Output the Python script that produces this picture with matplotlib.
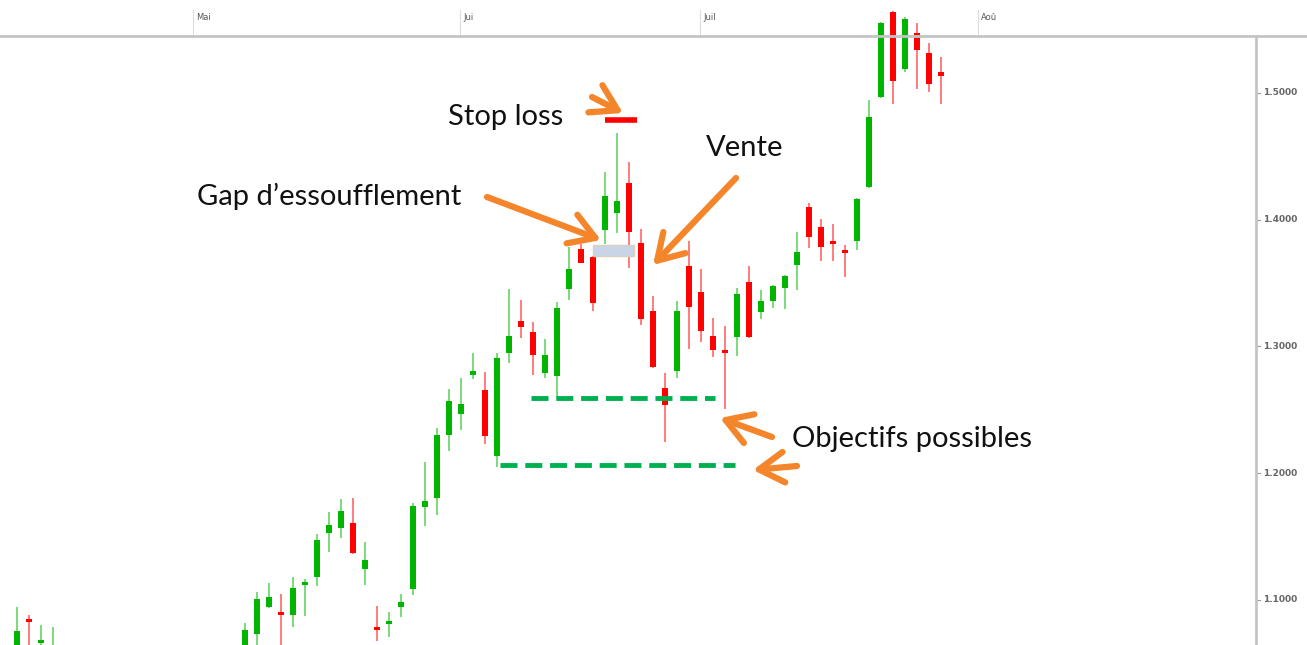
import matplotlib.pyplot as plt
import numpy as np

nan = np.nan

# daily candles, index = trading day; days 4-18 lie below the visible window
opens = [1.0580, 1.0830, 1.0660, 1.0500] + [nan] * 15 + [
    1.0580, 1.0732, 1.0944, 1.0885, 1.0881, 1.1118, 1.1181, 1.1528, 1.1568, 1.1607,
    1.1244, 1.0768, 1.0810, 1.0944, 1.1087, 1.1734, 1.1805, 1.2302, 1.2467, 1.2775,
    1.2657, 1.2136, 1.2949, 1.3201, 1.3114, 1.2791, 1.2767, 1.3454, 1.3769, 1.3706,
    1.3919, 1.4053, 1.4290, 1.3816, 1.3280, 1.2672, 1.2807, 1.3635, 1.3430, 1.3083,
    1.2953, 1.3075, 1.3509, 1.3272, 1.3359, 1.3461, 1.3643, 1.4101, 1.3943, 1.3813,
    1.3742, 1.3832, 1.4258, 1.4968, 1.5639, 1.5189, 1.5473, 1.5316, 1.5146]
highs = [1.0944, 1.0881, 1.0803, 1.0787] + [nan] * 15 + [
    1.0818, 1.1063, 1.1134, 1.1047, 1.1181, 1.1165, 1.1521, 1.1694, 1.1797, 1.1805,
    1.1457, 1.0952, 1.0905, 1.1047, 1.1765, 1.2089, 1.2357, 1.2665, 1.2751, 1.2949,
    1.2799, 1.2949, 1.3454, 1.3367, 1.3193, 1.3059, 1.3351, 1.3785, 1.3809, 1.3712,
    1.4377, 1.4684, 1.4456, 1.3927, 1.3398, 1.2791, 1.3359, 1.3832, 1.3611, 1.3225,
    1.3162, 1.3461, 1.3635, 1.3446, 1.3485, 1.3564, 1.3903, 1.4132, 1.4006, 1.3966,
    1.3801, 1.4170, 1.4945, 1.5560, 1.5645, 1.5600, 1.5552, 1.5395, 1.5284]
lows = [1.0500, 1.0600, 1.0580, 1.0450] + [nan] * 15 + [
    1.0520, 1.0620, 1.0937, 1.0600, 1.0787, 1.0873, 1.1110, 1.1378, 1.1489, 1.1365,
    1.1118, 1.0676, 1.0708, 1.0866, 1.1039, 1.1584, 1.1670, 1.2175, 1.2341, 1.2743,
    1.2231, 1.2049, 1.2870, 1.3067, 1.2775, 1.2751, 1.2601, 1.3367, 1.3655, 1.3280,
    1.3809, 1.3895, 1.3619, 1.3170, 1.2830, 1.2246, 1.2751, 1.2980, 1.3035, 1.2917,
    1.2507, 1.2925, 1.3070, 1.3217, 1.3304, 1.3296, 1.3446, 1.3777, 1.3674, 1.3674,
    1.3548, 1.3761, 1.4252, 1.4960, 1.4913, 1.5166, 1.5032, 1.5008, 1.4913]
closes = [1.0755, 1.0822, 1.0684, 1.0600] + [nan] * 15 + [
    1.0763, 1.1008, 1.1023, 1.0877, 1.1094, 1.1142, 1.1473, 1.1592, 1.1702, 1.1371,
    1.1315, 1.0758, 1.0826, 1.0984, 1.1741, 1.1781, 1.2302, 1.2570, 1.2546, 1.2807,
    1.2294, 1.2909, 1.3083, 1.3154, 1.2933, 1.2933, 1.3304, 1.3611, 1.3659, 1.3343,
    1.4187, 1.4148, 1.3903, 1.3217, 1.2838, 1.2538, 1.3280, 1.3312, 1.3122, 1.2972,
    1.2945, 1.3414, 1.3075, 1.3359, 1.3477, 1.3556, 1.3745, 1.3864, 1.3785, 1.3805,
    1.3734, 1.4164, 1.4811, 1.5552, 1.5095, 1.5584, 1.5339, 1.5071, 1.5138]

months = ['Mai', 'Jui', 'Juil', 'Aoû']
month_pos = [14.67, 36.92, 56.92, 80.08]
price_ticks = [1.1, 1.2, 1.3, 1.4, 1.5]

stop_loss = 1.4790
gap_low, gap_high = 1.3713, 1.3800
objectives = [1.2593, 1.2064]

green = '#00b400'
red = '#ff0000'
orange = '#f5852a'

o = np.array(opens)
h = np.array(highs)
l = np.array(lows)
c = np.array(closes)
days = np.arange(len(o))
up = c >= o
col = np.where(up, green, red)

fig = plt.figure(figsize=(13.07, 6.45), dpi=100)
ax = fig.add_axes([0, 0, 1, 1])
ax.set_xlim(-17 / 12, 1290 / 12)
ax.set_ylim(1.5 - 552 / 1267, 1.5 + 93 / 1267)
ax.axis('off')

ok = ~np.isnan(o)
ax.vlines(days[ok], l[ok], h[ok], colors=col[ok], linewidth=1.2, alpha=0.6, zorder=2)
body = np.maximum(np.abs(c - o), 0.0024)
ax.bar(days[ok], body[ok], bottom=np.minimum(o, c)[ok], width=0.55,
       color=col[ok], linewidth=0, zorder=3)

# top time strip and right price scale
ax.axhline(1.5 + 57 / 1267, color='#c4c4c4', linewidth=2, zorder=4)
for m, p in zip(months, month_pos):
    ax.plot([p, p], [1.5 + 57 / 1267, 1.5 + 83 / 1267], color='#dddddd', linewidth=0.8, zorder=1)
    ax.text(p + 0.25, 1.5 + 75 / 1267, m, fontsize=6, color='#555555', va='center', ha='left')
x_axis = 1239 / 12
ax.plot([x_axis, x_axis], [1.0, 1.5 + 57 / 1267], color='#c4c4c4', linewidth=2, zorder=4)
for t in price_ticks:
    ax.plot([x_axis, x_axis + 0.3], [t, t], color='#999999', linewidth=0.8)
    ax.text(x_axis + 0.55, t, '%.4f' % t, fontsize=6.5, color='#666666', va='center',
            ha='left', fontweight='bold')

# annotations
ax.plot([49.0, 51.67], [stop_loss, stop_loss], color=red, linewidth=4, solid_capstyle='butt', zorder=5)
ax.add_patch(plt.Rectangle((47.97, gap_low), 3.43, gap_high - gap_low, facecolor='#c9d5e6',
                           edgecolor='#d8d0c0', linewidth=1, zorder=4))
ax.plot([42.8, 58.2], [objectives[0]] * 2, color='#00b050', linewidth=3.5, dashes=(3.5, 1.6), zorder=5)
ax.plot([40.25, 59.8], [objectives[1]] * 2, color='#00b050', linewidth=3.5, dashes=(3.5, 1.6), zorder=5)

font = dict(family='Lato', fontsize=21, color='#111111')
ax.text(448, 645 - 125, 'Stop loss', transform=None, va='baseline', ha='left', **font)
ax.text(706, 645 - 156, 'Vente', transform=None, va='baseline', ha='left', **font)
ax.text(197, 645 - 205, 'Gap d\u2019essoufflement', transform=None, va='baseline', ha='left', **font)
ax.text(792, 645 - 447, 'Objectifs possibles', transform=None, va='baseline', ha='left', **font)

arrows = [((592, 97), (623, 113)), ((487, 197), (601, 240)), ((736, 178), (653, 265)),
          ((772, 437), (720, 418)), ((797, 466), (753, 470))]
for (x0, y0), (x1, y1) in arrows:
    ax.annotate('', xy=(x1, 645 - y1), xytext=(x0, 645 - y0),
                xycoords='figure pixels', textcoords='figure pixels',
                arrowprops=dict(arrowstyle='->, head_length=0.9, head_width=0.55',
                                color=orange, lw=4.5, mutation_scale=20,
                                shrinkA=0, shrinkB=0), zorder=6)

fig.savefig('out.png', dpi=100)
